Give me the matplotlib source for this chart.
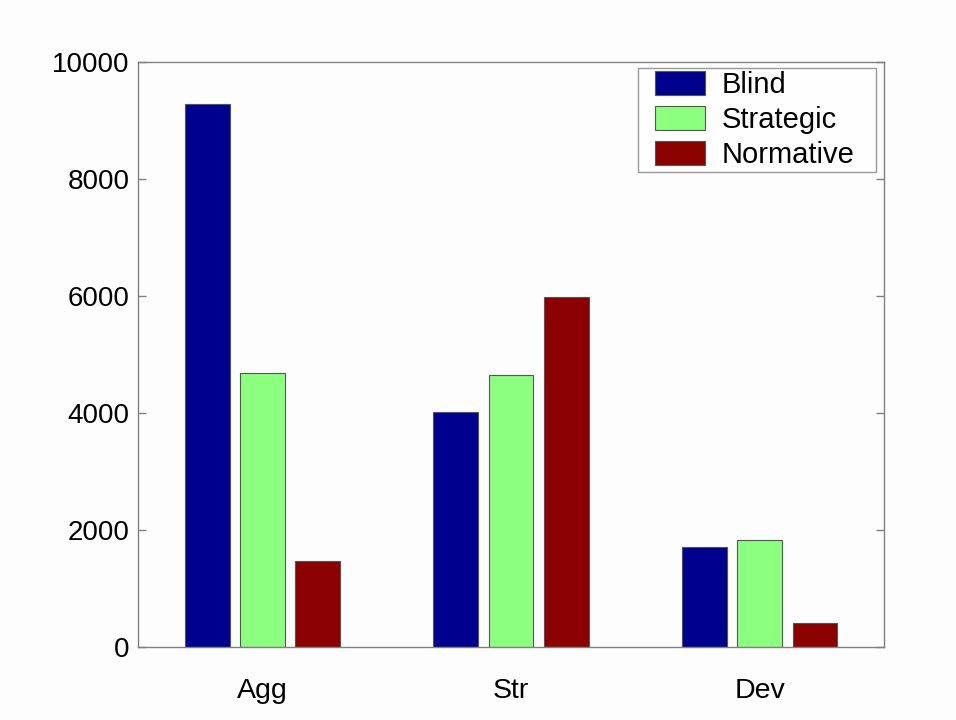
import numpy as np
import matplotlib
matplotlib.use("Agg")
import matplotlib.pyplot as plt
from matplotlib.legend_handler import HandlerPatch
from matplotlib.patches import Rectangle
from matplotlib.container import BarContainer

plt.rcParams['font.family'] = ['Liberation Sans', 'DejaVu Sans']

groups = ['Agg', 'Str', 'Dev']
series = ['Blind', 'Strategic', 'Normative']
blind = [9280, 4020, 1715]
strategic = [4680, 4650, 1830]
normative = [1470, 5980, 415]
colors = ['#00008F', '#8CFF80', '#8B0000']

fig = plt.figure(figsize=(9.56, 7.2), dpi=100, facecolor='#fcfdfc')
ax = fig.add_axes([0.1444, 0.1014, 0.7803, 0.8125])
ax.set_facecolor('#fcfdfc')

x = np.arange(1, len(groups) + 1)
offsets = [-0.222, 0.0, 0.222]
for vals, name, col, off in zip([blind, strategic, normative], series, colors, offsets):
    ax.bar(x + off, vals, width=0.18, color=col, edgecolor='#555555',
           linewidth=0.8, label=name, zorder=2)

ax.set_xlim(0.5, 3.5)
ax.set_ylim(0, 10000)
ax.set_xticks(x)
ax.set_xticklabels(groups)
ax.set_yticks(np.arange(0, 10001, 2000))

for s in ax.spines.values():
    s.set_color('#808080')
    s.set_linewidth(1.0)
ax.tick_params(axis='y', direction='in', length=6, color='#808080', labelsize=20,
               right=True, width=1.0, pad=6)
ax.tick_params(axis='x', length=0, labelsize=20.5, pad=22)


# legend swatches sit a bit in from the frame, like the matlab legend
def shifted_rect(legend, orig_handle, xdescent, ydescent, width, height, fontsize):
    off = 10.0
    return Rectangle((-xdescent + off, -ydescent), width - off, height)


def from_first_bar(handle, orig):
    handle.update_from(orig.patches[0])


leg = ax.legend(loc='upper left', bbox_to_anchor=(0.6702, 0.812, 0.319, 0.1778),
                mode='expand', fontsize=21, frameon=True, fancybox=False,
                edgecolor='#808080', handlelength=2.19, handleheight=0.89,
                borderaxespad=0.0, labelspacing=0.24, handletextpad=0.58,
                borderpad=0.1,
                handler_map={BarContainer: HandlerPatch(patch_func=shifted_rect,
                                                        update_func=from_first_bar)})
leg.get_frame().set_linewidth(1.0)
leg.get_frame().set_facecolor('white')

fig.savefig('out.png', dpi=100, facecolor=fig.get_facecolor())
